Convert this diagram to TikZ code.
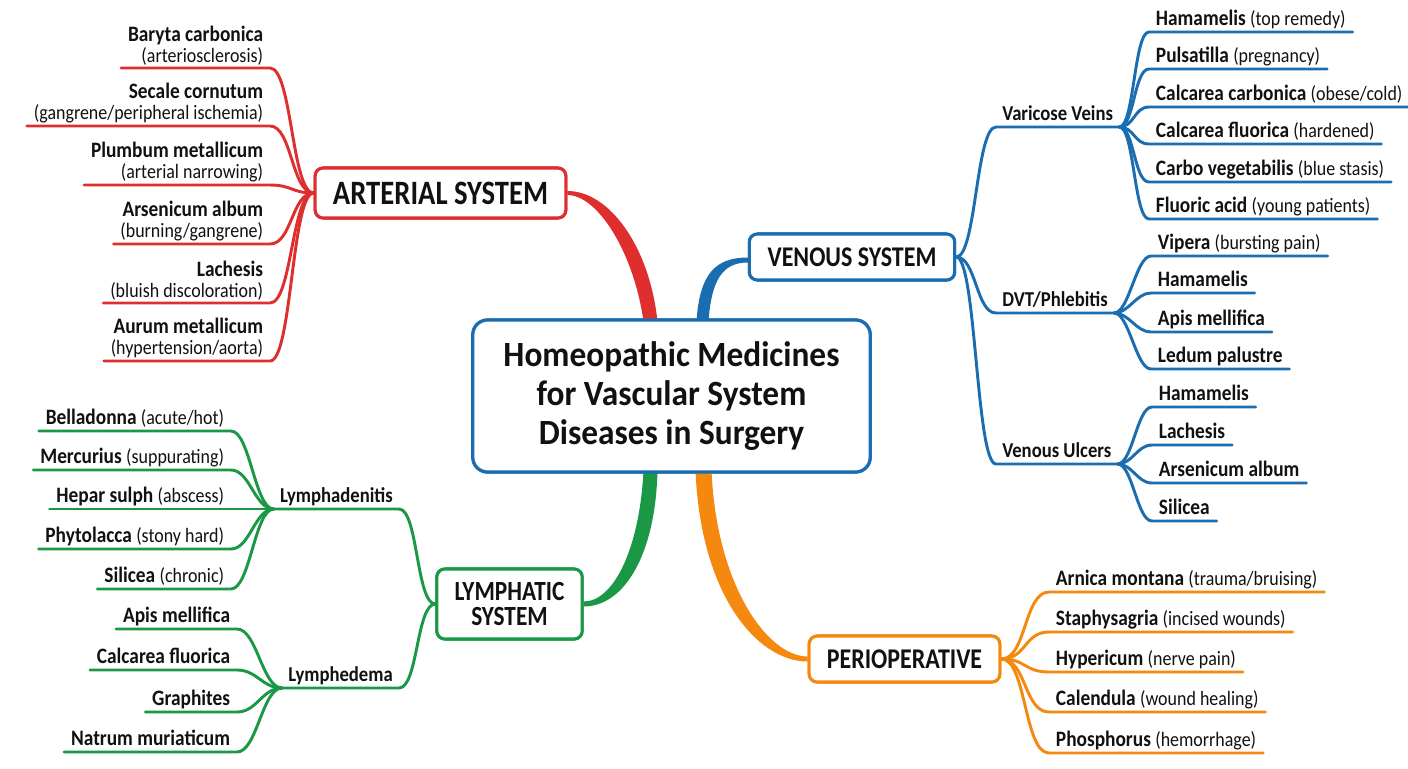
\documentclass[tikz,border=0pt]{standalone}
\usepackage{fontspec}
\setmainfont{Carlito}[FakeStretch=0.88]
\newfontfamily\titlefont{Carlito}[FakeStretch=0.94]
\newfontfamily\topicfont{Carlito}[FakeStretch=0.84]
\usetikzlibrary{calc}
\definecolor{cred}{HTML}{DE2E2E}
\definecolor{cblue}{HTML}{1A6DB0}
\definecolor{cgreen}{HTML}{1B9846}
\definecolor{corange}{HTML}{F5890F}
\definecolor{ink}{HTML}{111111}
\newcommand{\mynote}[1]{{\mdseries\fontsize{15.3}{17.9}\selectfont #1}}
\begin{document}
\begin{tikzpicture}[x=0.75pt,y=-0.75pt,
  every node/.style={text=ink},
  mainbox/.style={draw=cblue, line width=2.4pt, rounded corners=11pt, fill=white,
    minimum width=298pt, minimum height=114pt, align=center,
    font=\titlefont\fontsize{26.6}{29}\selectfont\bfseries},
  topic/.style={draw=#1, line width=2.3pt, rounded corners=6pt, fill=white,
    align=center, font=\topicfont\fontsize{21.4}{20}\selectfont\bfseries},
  sub/.style={inner xsep=4.5pt, inner ysep=2pt, text height=0.75em, text depth=0.25em,
    font=\fontsize{15.9}{18}\selectfont\bfseries},
  leaf/.style={inner xsep=5pt, inner ysep=2pt, text height=0.75em, text depth=0.25em,
    font=\fontsize{16.5}{18}\selectfont\bfseries},
  leaftwo/.style={inner xsep=5pt, inner ysep=2pt, align=right,
    font=\fontsize{16.5}{15.75}\selectfont\bfseries},
  ln/.style={draw=#1, line width=2.2pt, line cap=round},
]
\fill[white] (0,0) rectangle (1408,768);
\useasboundingbox (0,0) rectangle (1408,768);

% ---------- nodes ----------
\node[mainbox] (ctr) at (671.5,396) {Homeopathic Medicines\\for Vascular System\\Diseases in Surgery};
\node[topic=cred, minimum width=188pt, minimum height=37.5pt, font=\topicfont\fontsize{25.6}{23}\selectfont\bfseries] (art) at (440.5,193) {ARTERIAL SYSTEM};
\node[topic=cblue, minimum width=154pt, minimum height=34.5pt] (ven) at (852,257) {VENOUS SYSTEM};
\node[topic=corange, minimum width=143pt, minimum height=34.5pt] (per) at (904.5,659) {PERIOPERATIVE};
\node[topic=cgreen, minimum width=109pt, minimum height=52.5pt, font=\topicfont\fontsize{20.8}{19}\selectfont\bfseries] (lym) at (509.5,604) {LYMPHATIC\\SYSTEM};

% ---------- tapered main branches ----------
\coordinate (rA) at ($(ctr.north)+(-21,3)$);
\coordinate (bA) at ($(ctr.north)+(31,3)$);
\coordinate (gA) at ($(ctr.south)+(-21,-3)$);
\coordinate (oA) at ($(ctr.south)+(32,-3)$);
\coordinate (rB) at (art.east);
\coordinate (bB) at ($(ven.west)+(0,3)$);
\coordinate (gB) at (lym.east);
\coordinate (oB) at (per.west);

\fill[cred] ($(rA)+(-7,0)$) .. controls ($(rA)+(-17,-70)$) and ($(rB)+(30,2)$) .. ($(rB)+(0,2)$)
  -- ($(rB)+(0,-2)$) .. controls ($(rB)+(42,-2)$) and ($(rA)+(-1,-75)$) .. ($(rA)+(7,0)$) -- cycle;
\fill[cblue] ($(bA)+(-6,0)$) .. controls ($(bA)+(-3,-48)$) and ($(bB)+(-32,-2.5)$) .. ($(bB)+(0,-2.5)$)
  -- ($(bB)+(0,2.5)$) .. controls ($(bB)+(-25,2.5)$) and ($(bA)+(9,-42)$) .. ($(bA)+(6,0)$) -- cycle;
\fill[cgreen] ($(gA)+(-7,0)$) .. controls ($(gA)+(-11,78)$) and ($(gB)+(30,-2.5)$) .. ($(gB)+(0,-2.5)$)
  -- ($(gB)+(0,2.5)$) .. controls ($(gB)+(40,2.5)$) and ($(gA)+(5,85)$) .. ($(gA)+(7,0)$) -- cycle;
\fill[corange] ($(oA)+(-8,0)$) .. controls ($(oA)+(-3,125)$) and ($(oB)+(-50,2.5)$) .. ($(oB)+(0,2.5)$)
  -- ($(oB)+(0,-2.5)$) .. controls ($(oB)+(-40,-2.5)$) and ($(oA)+(13,115)$) .. ($(oA)+(8,0)$) -- cycle;

% redraw central box on top
\node[mainbox] at (ctr) {Homeopathic Medicines\\for Vascular System\\Diseases in Surgery};

% ---------- arterial leaves ----------
\node[leaftwo, anchor=south east] (a1) at (270,68) {Baryta carbonica\\\mynote{(arteriosclerosis)}};
\node[leaftwo, anchor=south east] (a2) at (270,126) {Secale cornutum\\\mynote{(gangrene/peripheral ischemia)}};
\node[leaftwo, anchor=south east] (a3) at (270,185) {Plumbum metallicum\\\mynote{(arterial narrowing)}};
\node[leaftwo, anchor=south east] (a4) at (270,244) {Arsenicum album\\\mynote{(burning/gangrene)}};
\node[leaftwo, anchor=south east] (a5) at (270,303) {Lachesis\\\mynote{(bluish discoloration)}};
\node[leaftwo, anchor=south east] (a6) at (270,361) {Aurum metallicum\\\mynote{(hypertension/aorta)}};
\foreach \n in {a1,a2,a3,a4,a5,a6}
  \draw[ln=cred] (art.west) .. controls +(-22,0) and +(22,0) .. (\n.south east) -- (\n.south west);

% ---------- venous ----------
\node[sub, anchor=south west] (vv) at (996,127) {Varicose Veins};
\node[sub, anchor=south west] (dvt) at (996,313) {DVT/Phlebitis};
\node[sub, anchor=south west] (vu) at (996,464) {Venous Ulcers};
\foreach \n in {vv,dvt,vu}
  \draw[ln=cblue] (ven.east) .. controls +(20,0) and +(-20,0) .. (\n.south west) -- (\n.south east);

\node[leaf, anchor=south west] (v1) at (1149,32) {Hamamelis \mynote{(top remedy)}};
\node[leaf, anchor=south west] (v2) at (1149,69) {Pulsatilla \mynote{(pregnancy)}};
\node[leaf, anchor=south west] (v3) at (1149,107) {Calcarea carbonica \mynote{(obese/cold)}};
\node[leaf, anchor=south west] (v4) at (1149,144) {Calcarea fluorica \mynote{(hardened)}};
\node[leaf, anchor=south west] (v5) at (1149,182) {Carbo vegetabilis \mynote{(blue stasis)}};
\node[leaf, anchor=south west] (v6) at (1149,219) {Fluoric acid \mynote{(young patients)}};
\foreach \n in {v1,v2,v3,v4,v5,v6}
  \draw[ln=cblue] (vv.south east) .. controls +(15,0) and +(-15,0) .. (\n.south west) -- (\n.south east);

\node[leaf, anchor=south west] (d1) at (1151,256) {Vipera \mynote{(bursting pain)}};
\node[leaf, anchor=south west] (d2) at (1151,293) {Hamamelis};
\node[leaf, anchor=south west] (d3) at (1151,332) {Apis mellifica};
\node[leaf, anchor=south west] (d4) at (1151,369) {Ledum palustre};
\foreach \n in {d1,d2,d3,d4}
  \draw[ln=cblue] (dvt.south east) .. controls +(15,0) and +(-15,0) .. (\n.south west) -- (\n.south east);

\node[leaf, anchor=south west] (u1) at (1152,407) {Hamamelis};
\node[leaf, anchor=south west] (u2) at (1152,445) {Lachesis};
\node[leaf, anchor=south west] (u3) at (1152,483) {Arsenicum album};
\node[leaf, anchor=south west] (u4) at (1152,521) {Silicea};
\foreach \n in {u1,u2,u3,u4}
  \draw[ln=cblue] (vu.south east) .. controls +(15,0) and +(-15,0) .. (\n.south west) -- (\n.south east);

% ---------- perioperative ----------
\node[leaf, anchor=south west] (p1) at (1049,592) {Arnica montana \mynote{(trauma/bruising)}};
\node[leaf, anchor=south west] (p2) at (1049,632) {Staphysagria \mynote{(incised wounds)}};
\node[leaf, anchor=south west] (p3) at (1049,672) {Hypericum \mynote{(nerve pain)}};
\node[leaf, anchor=south west] (p4) at (1049,712) {Calendula \mynote{(wound healing)}};
\node[leaf, anchor=south west] (p5) at (1049,753) {Phosphorus \mynote{(hemorrhage)}};
\foreach \n in {p1,p2,p3,p4,p5}
  \draw[ln=corange] (per.east) .. controls +(25,0) and +(-25,0) .. (\n.south west) -- (\n.south east);

% ---------- lymphatic ----------
\node[sub, anchor=south east] (lad) at (399,509) {Lymphadenitis};
\node[sub, anchor=south east] (led) at (399,688) {Lymphedema};
\foreach \n in {lad,led}
  \draw[ln=cgreen] (lym.west) .. controls +(-19,0) and +(19,0) .. (\n.south east) -- (\n.south west);

\node[leaf, anchor=south east] (l1) at (231,431) {Belladonna \mynote{(acute/hot)}};
\node[leaf, anchor=south east] (l2) at (231,470) {Mercurius \mynote{(suppurating)}};
\node[leaf, anchor=south east] (l3) at (231,509) {Hepar sulph \mynote{(abscess)}};
\node[leaf, anchor=south east] (l4) at (231,549) {Phytolacca \mynote{(stony hard)}};
\node[leaf, anchor=south east] (l5) at (231,589) {Silicea \mynote{(chronic)}};
\foreach \n in {l1,l2,l3,l4,l5}
  \draw[ln=cgreen] (lad.south west) .. controls +(-19,0) and +(19,0) .. (\n.south east) -- (\n.south west);

\node[leaf, anchor=south east] (m1) at (237,629) {Apis mellifica};
\node[leaf, anchor=south east] (m2) at (237,670) {Calcarea fluorica};
\node[leaf, anchor=south east] (m3) at (237,712) {Graphites};
\node[leaf, anchor=south east] (m4) at (237,752) {Natrum muriaticum};
\foreach \n in {m1,m2,m3,m4}
  \draw[ln=cgreen] (led.south west) .. controls +(-20,0) and +(20,0) .. (\n.south east) -- (\n.south west);

% topic boxes on top of branch ends
\node[topic=cred, minimum width=188pt, minimum height=37.5pt, font=\topicfont\fontsize{25.6}{23}\selectfont\bfseries] at (art) {ARTERIAL SYSTEM};
\node[topic=cblue, minimum width=154pt, minimum height=34.5pt] at (ven) {VENOUS SYSTEM};
\node[topic=corange, minimum width=143pt, minimum height=34.5pt] at (per) {PERIOPERATIVE};
\node[topic=cgreen, minimum width=109pt, minimum height=52.5pt, font=\topicfont\fontsize{20.8}{19}\selectfont\bfseries] at (lym) {LYMPHATIC\\SYSTEM};
\end{tikzpicture}
\end{document}
